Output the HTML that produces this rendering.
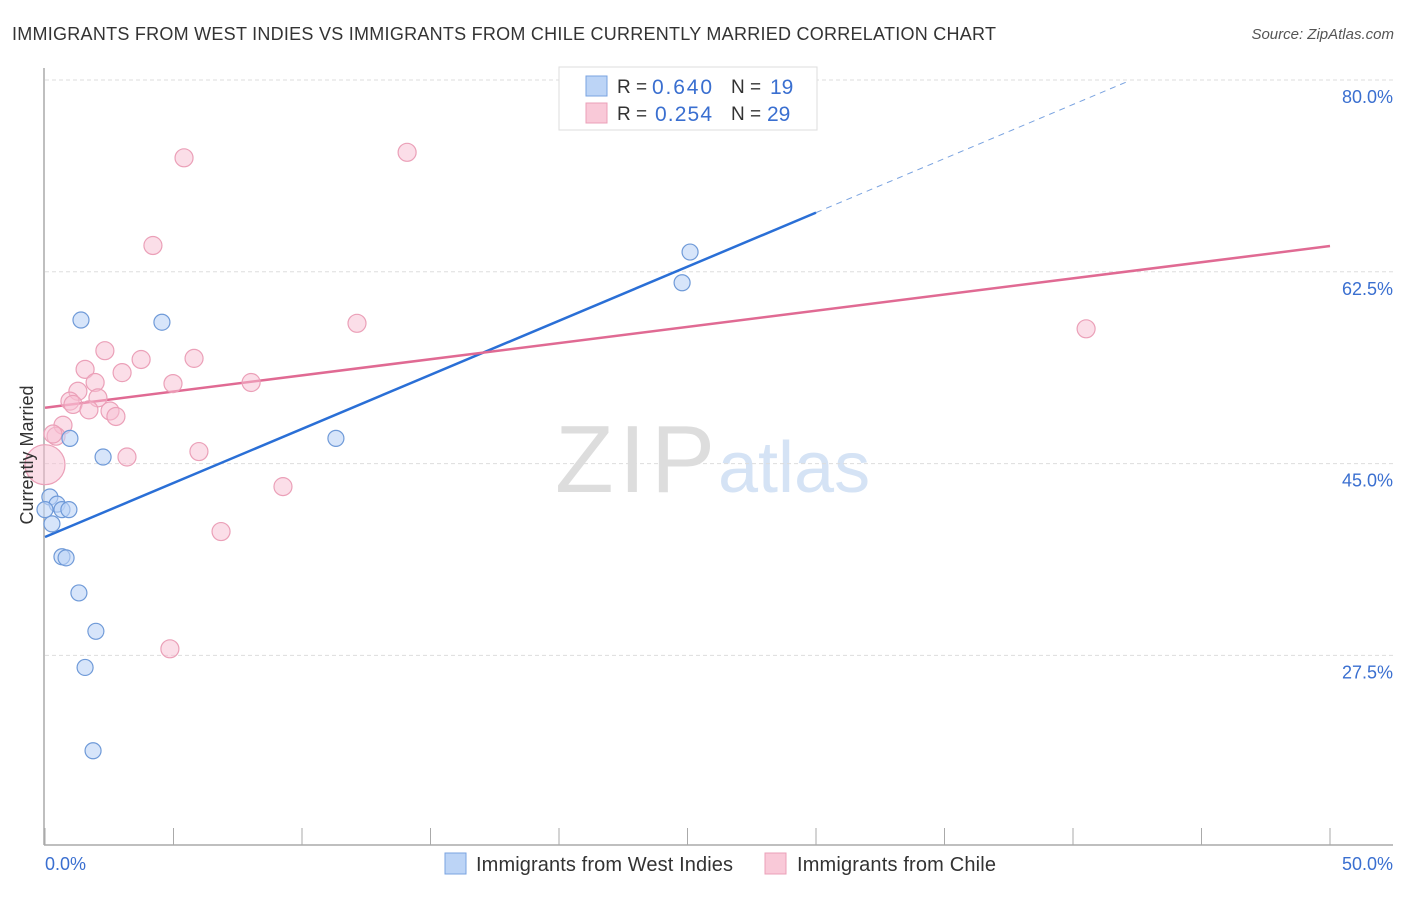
<!DOCTYPE html>
<html><head><meta charset="utf-8"><style>
body{margin:0;background:#fff;font-family:"Liberation Sans",sans-serif;}
svg text{font-family:"Liberation Sans",sans-serif;}
</style></head><body>
<svg width="1406" height="892">
<text x="12" y="40" font-size="18" fill="#333" textLength="984">IMMIGRANTS FROM WEST INDIES VS IMMIGRANTS FROM CHILE CURRENTLY MARRIED CORRELATION CHART</text>
<text x="1394" y="39" font-size="15" fill="#555" text-anchor="end" font-style="italic">Source: ZipAtlas.com</text>
<g>
<text x="555" y="492" font-size="96" fill="#ddd" font-family="Liberation Serif" textLength="160">ZIP</text>
<text x="718" y="492" font-size="72" fill="#d5e3f5">atlas</text>
</g>
<g id="grid"></g><g id="axes"></g><g id="lines"></g><g id="pts"></g>
<text transform="translate(33,455) rotate(-90)" font-size="18" fill="#333" text-anchor="middle">Currently Married</text>
<text x="45" y="870" font-size="18" fill="#3a6fd0">0.0%</text>
<text x="1393" y="870" font-size="18" fill="#3a6fd0" text-anchor="end">50.0%</text>
<g>
<rect x="559" y="67" width="258" height="63" fill="#fff" stroke="#ddd"/>
<rect x="586" y="76" width="21" height="20" fill="#bcd4f6" stroke="#7aa3e0"/>
<rect x="586" y="103" width="21" height="20" fill="#f9c9d8" stroke="#eba0b8"/>
<text x="617" y="93" font-size="19" fill="#333">R = </text>
<text x="652" y="94" font-size="21" fill="#3a6fd0" textLength="60">0.640</text>
<text x="731" y="93" font-size="19" fill="#333">N = </text>
<text x="770" y="94" font-size="21" fill="#3a6fd0">19</text>
<text x="617" y="120" font-size="19" fill="#333">R = </text>
<text x="655" y="121" font-size="21" fill="#3a6fd0" textLength="57">0.254</text>
<text x="731" y="120" font-size="19" fill="#333">N = </text>
<text x="767" y="121" font-size="21" fill="#3a6fd0">29</text>
</g>
<g>
<rect x="445" y="853" width="21" height="21" fill="#bcd4f6" stroke="#7aa3e0"/>
<text x="476" y="871" font-size="20" fill="#333" textLength="257">Immigrants from West Indies</text>
<rect x="765" y="853" width="21" height="21" fill="#f9c9d8" stroke="#eba0b8"/>
<text x="797" y="871" font-size="20" fill="#333" textLength="199">Immigrants from Chile</text>
</g>
</svg>
<script>
const yTicks=[80,62.5,45,27.5];
const yTickLabels=["80.0%","62.5%","45.0%","27.5%"];
const xTicks=[0,5,10,15,20,25,30,35,40,45,50];
const blueX=[1.40,4.55,0.97,2.26,11.32,25.10,24.79,0.19,0.47,0.66,0.93,0.27,0.66,0.82,1.32,1.98,1.56,1.87,0.0];
const blueY=[58.1,57.9,47.3,45.6,47.3,64.3,61.5,41.95,41.3,40.8,40.8,39.5,36.5,36.4,33.2,29.7,26.4,18.8,40.8];
const pinkX=[5.41,14.09,4.20,12.14,40.51,2.33,3.74,5.80,1.56,3.00,1.95,4.98,8.02,1.28,2.06,0.97,1.09,1.71,2.53,2.76,0.70,0.43,0.31,3.19,5.99,9.26,6.85,4.86,0];
const pinkY=[72.9,73.4,64.9,57.8,57.3,55.3,54.5,54.6,53.6,53.3,52.4,52.3,52.4,51.6,51.0,50.7,50.4,49.9,49.8,49.3,48.5,47.5,47.7,45.6,46.1,42.9,38.8,28.1,44.9];
const pinkR=[9,9,9,9,9,9,9,9,9,9,9,9,9,9,9,9,9,9,9,9,9,9,9,9,9,9,9,9,20];
const blueLine=[0,38.3,30.0,67.9,42.2];
const pinkLine=[0,50.1,50,64.85];
const NS="http://www.w3.org/2000/svg";
const X=v=>45+v*25.7, Y=v=>80+(80-v)*10.96;
function mk(p,t,a){const e=document.createElementNS(NS,t);for(const k in a)e.setAttribute(k,a[k]);document.getElementById(p).appendChild(e);return e;}
yTicks.forEach((t,i)=>{
 let g=mk('grid','line',{x1:45,x2:1393,y1:Y(t),y2:Y(t),stroke:'#ddd','stroke-dasharray':'4,3'});
 
 
 let l=mk('grid','text',{x:1393,y:Y(t)+23,'font-size':18,fill:'#3a6fd0','text-anchor':'end'});
 l.textContent=yTickLabels[i];
 
 
});
let ya=mk('axes','line',{x1:44,x2:44,y1:68,y2:845,stroke:'#aaa','stroke-width':1.5});


let xa=mk('axes','line',{x1:44,x2:1393,y1:845,y2:845,stroke:'#aaa','stroke-width':1.5});


xTicks.forEach(t=>{let k=mk('axes','line',{x1:X(t),x2:X(t),y1:828,y2:845,stroke:'#aaa'});
 
 });
let bl=mk('lines','line',{x1:X(blueLine[0]),y1:Y(blueLine[1]),x2:X(blueLine[2]),y2:Y(blueLine[3]),stroke:'#2a6fd6','stroke-width':2.5});


const sl=(blueLine[3]-blueLine[1])/(blueLine[2]-blueLine[0]);
let bd=mk('lines','line',{x1:X(blueLine[2]),y1:Y(blueLine[3]),x2:X(blueLine[4]),y2:Y(blueLine[1]+sl*blueLine[4]),stroke:'#7aa3e0','stroke-width':1,'stroke-dasharray':'6,5'});


let pl=mk('lines','line',{x1:X(pinkLine[0]),y1:Y(pinkLine[1]),x2:X(pinkLine[2]),y2:Y(pinkLine[3]),stroke:'#e06a93','stroke-width':2.5});


pinkX.forEach((x,i)=>{let c=mk('pts','circle',{cx:X(x),cy:Y(pinkY[i]),r:pinkR[i],fill:'rgba(248,190,210,0.5)',stroke:'#eba0b8','stroke-width':1.2});
 
 });
blueX.forEach((x,i)=>{let c=mk('pts','circle',{cx:X(x),cy:Y(blueY[i]),r:8,fill:'rgba(188,212,246,0.6)',stroke:'#6f9ad8','stroke-width':1.2});
 
 });
</script>
</body></html>
